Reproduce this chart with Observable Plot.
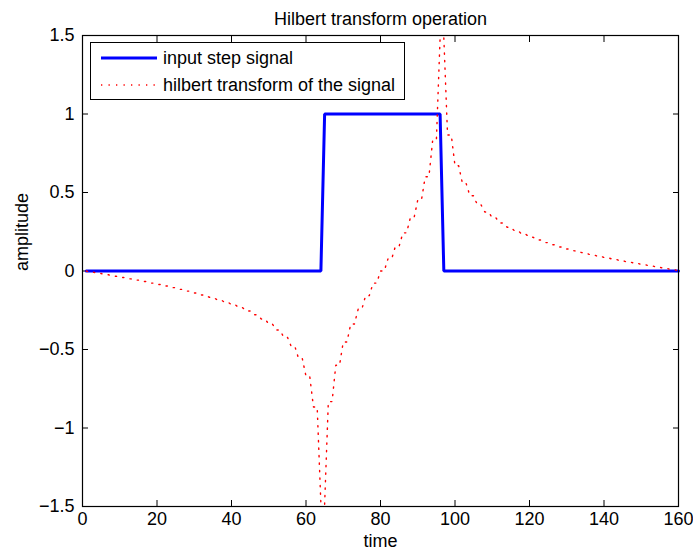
<!DOCTYPE html>
<html>
<head>
<meta charset="utf-8">
<script src="https://cdn.jsdelivr.net/npm/d3@7"></script>
<script src="https://cdn.jsdelivr.net/npm/@observablehq/plot@0.6"></script>
<style>
  html, body { margin: 0; padding: 0; background: #fff; }
  #chart { width: 693px; height: 556px; }
</style>
</head>
<body>
<div id="chart"></div>
<script>
// Sample index (time) 1..160
const time = d3.range(1, 161);

// Rectangular input pulse: 1 for samples 65..96
const stepSignal = [
  0, 0, 0, 0, 0, 0, 0, 0, 0, 0,
  0, 0, 0, 0, 0, 0, 0, 0, 0, 0,
  0, 0, 0, 0, 0, 0, 0, 0, 0, 0,
  0, 0, 0, 0, 0, 0, 0, 0, 0, 0,
  0, 0, 0, 0, 0, 0, 0, 0, 0, 0,
  0, 0, 0, 0, 0, 0, 0, 0, 0, 0,
  0, 0, 0, 0, 1, 1, 1, 1, 1, 1,
  1, 1, 1, 1, 1, 1, 1, 1, 1, 1,
  1, 1, 1, 1, 1, 1, 1, 1, 1, 1,
  1, 1, 1, 1, 1, 1, 0, 0, 0, 0,
  0, 0, 0, 0, 0, 0, 0, 0, 0, 0,
  0, 0, 0, 0, 0, 0, 0, 0, 0, 0,
  0, 0, 0, 0, 0, 0, 0, 0, 0, 0,
  0, 0, 0, 0, 0, 0, 0, 0, 0, 0,
  0, 0, 0, 0, 0, 0, 0, 0, 0, 0,
  0, 0, 0, 0, 0, 0, 0, 0, 0, 0
];

// Hilbert transform of the pulse (imaginary part of the analytic signal)
const hilbertSignal = [
  0, -0.008, -0.008, -0.016, -0.016, -0.024, -0.024, -0.033, -0.033, -0.041,
  -0.041, -0.050, -0.050, -0.058, -0.058, -0.067, -0.067, -0.077, -0.077, -0.086,
  -0.086, -0.096, -0.096, -0.106, -0.106, -0.117, -0.117, -0.128, -0.128, -0.140,
  -0.140, -0.153, -0.153, -0.167, -0.167, -0.181, -0.181, -0.197, -0.197, -0.215,
  -0.215, -0.234, -0.234, -0.255, -0.255, -0.279, -0.279, -0.306, -0.306, -0.338,
  -0.338, -0.376, -0.376, -0.421, -0.421, -0.479, -0.479, -0.557, -0.557, -0.670,
  -0.670, -0.866, -0.866, -1.486, -1.486, -0.832, -0.832, -0.600, -0.600, -0.452,
  -0.452, -0.338, -0.338, -0.243, -0.243, -0.157, -0.157, -0.077, -0.077, 0,
  0, 0.077, 0.077, 0.157, 0.157, 0.243, 0.243, 0.338, 0.338, 0.452,
  0.452, 0.600, 0.600, 0.832, 0.832, 1.486, 1.486, 0.866, 0.866, 0.670,
  0.670, 0.557, 0.557, 0.479, 0.479, 0.421, 0.421, 0.376, 0.376, 0.338,
  0.338, 0.306, 0.306, 0.279, 0.279, 0.255, 0.255, 0.234, 0.234, 0.215,
  0.215, 0.197, 0.197, 0.181, 0.181, 0.167, 0.167, 0.153, 0.153, 0.140,
  0.140, 0.128, 0.128, 0.117, 0.117, 0.106, 0.106, 0.096, 0.096, 0.086,
  0.086, 0.077, 0.077, 0.067, 0.067, 0.058, 0.058, 0.050, 0.050, 0.041,
  0.041, 0.033, 0.033, 0.024, 0.024, 0.016, 0.016, 0.008, 0.008, 0
];

const xTicks = [0, 20, 40, 60, 80, 100, 120, 140, 160];
const yTicks = [-1.5, -1, -0.5, 0, 0.5, 1, 1.5];

const titleText = "Hilbert transform operation";
const xLabel = "time";
const yLabel = "amplitude";
const seriesNames = ["input step signal", "hilbert transform of the signal"];
const seriesColors = ["#0000ff", "#ff0000"];

const rows = time.map((t, i) => ({ t, step: stepSignal[i], hilbert: hilbertSignal[i] }));

const font = "'Liberation Sans', Arial, Helvetica, sans-serif";
const fmt = d3.format("~g");
const blank = () => "";
const dotted = "1.3,6.2";

const plot = Plot.plot({
  width: 693,
  height: 556,
  marginLeft: 82,
  marginRight: 15,
  marginTop: 35,
  marginBottom: 50,
  style: { fontFamily: font, fontSize: "18px", background: "white", color: "black", overflow: "visible" },
  x: { domain: [0, 160] },
  y: { domain: [-1.5, 1.5] },
  marks: [
    Plot.axisX(xTicks, { anchor: "bottom", tickSize: -6, tickPadding: 12, tickFormat: fmt, label: null }),
    Plot.axisX(xTicks, { anchor: "top", tickSize: -6, tickFormat: blank, label: null }),
    Plot.axisY(yTicks, { anchor: "left", tickSize: -6, tickPadding: 14, tickFormat: fmt, label: null }),
    Plot.axisY(yTicks, { anchor: "right", tickSize: -6, tickFormat: blank, label: null }),
    Plot.line(rows, { x: "t", y: "step", stroke: seriesColors[0], strokeWidth: 3, strokeLinejoin: "miter" }),
    Plot.line(rows, { x: "t", y: "hilbert", stroke: seriesColors[1], strokeWidth: 1.4, strokeDasharray: dotted }),
    Plot.frame({ stroke: "black", strokeWidth: 1.2 }),
    Plot.text([titleText], { text: d => d, frameAnchor: "top", dy: -23, fontSize: 18 }),
    Plot.text([xLabel], { text: d => d, frameAnchor: "bottom", dy: 40, fontSize: 18 }),
    Plot.text([yLabel], { text: d => d, frameAnchor: "left", dx: -60, rotate: -90, fontSize: 18 })
  ]
});

// Legend box in the upper-left corner of the axes
const svg = d3.select(plot);
const legend = svg.append("g")
  .attr("font-family", font)
  .attr("font-size", 18)
  .attr("text-anchor", "start");
legend.append("rect")
  .attr("x", 90.5).attr("y", 42.5).attr("width", 314).attr("height", 57)
  .attr("fill", "white").attr("stroke", "black").attr("stroke-width", 1);
const rowY = [58, 85];
seriesNames.forEach((name, i) => {
  legend.append("line")
    .attr("x1", 101).attr("x2", 157).attr("y1", rowY[i]).attr("y2", rowY[i])
    .attr("stroke", seriesColors[i])
    .attr("stroke-width", i === 0 ? 3 : 1.4)
    .attr("stroke-dasharray", i === 0 ? null : dotted);
  legend.append("text")
    .attr("x", 163).attr("y", rowY[i]).attr("dy", "0.35em")
    .attr("text-anchor", "start")
    .attr("fill", "black")
    .text(name);
});

document.getElementById("chart").appendChild(plot);
</script>
</body>
</html>
